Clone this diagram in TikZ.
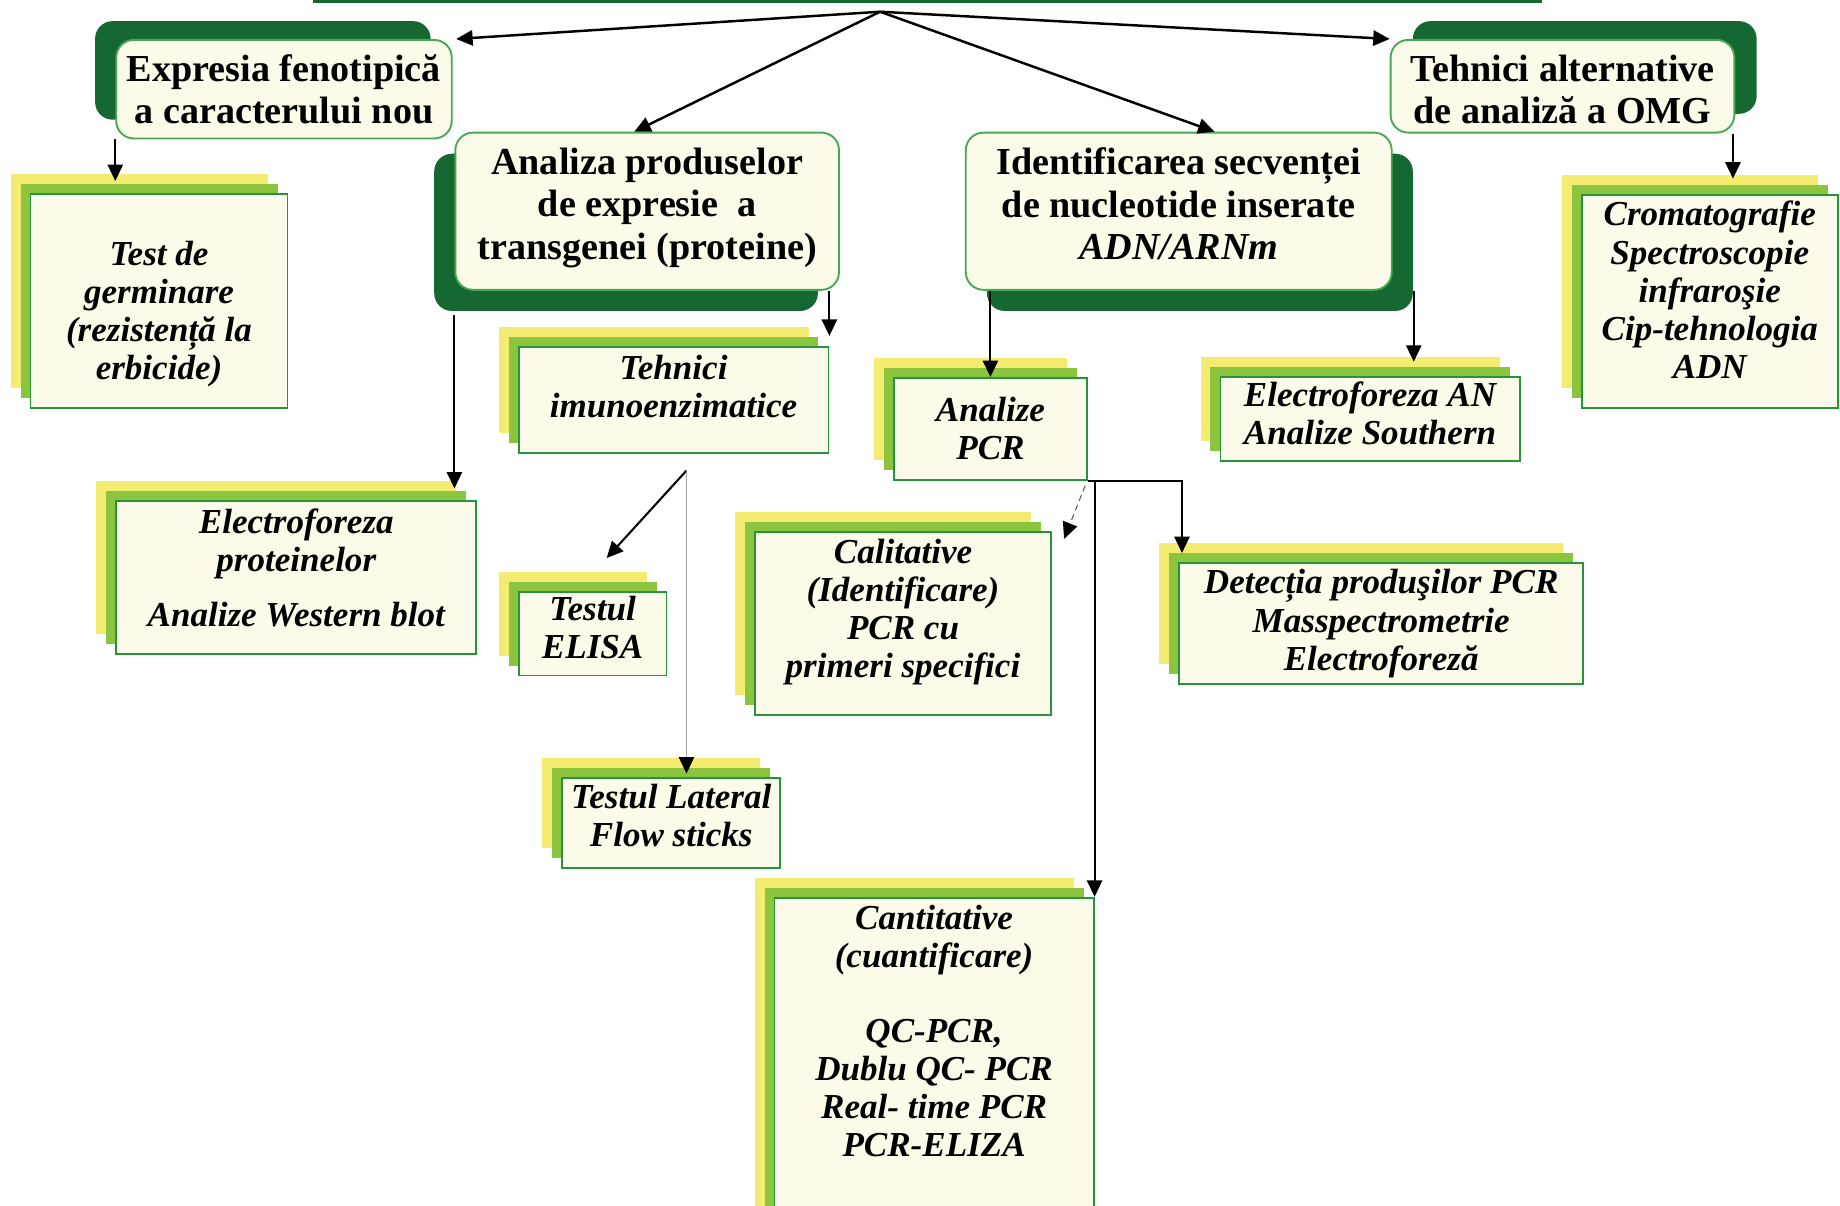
\documentclass[tikz,border=0pt]{standalone}
\usepackage{fontspec}
\setmainfont{Liberation Serif}
\usepackage{tikz}
\usetikzlibrary{arrows.meta,shadows}

\definecolor{hdark}{RGB}{22,104,50}
\definecolor{hborder}{RGB}{72,168,82}
\definecolor{cream}{RGB}{252,251,233}
\definecolor{lyellow}{RGB}{243,236,112}
\definecolor{lgreen}{RGB}{141,196,62}
\definecolor{lborder}{RGB}{38,148,62}

\newcommand{\headfont}{\fontsize{18.5}{20.5}\selectfont\bfseries}
\newcommand{\leaffont}{\fontsize{17}{18.5}\selectfont\bfseries\itshape}
\newcommand{\lowpad}[1]{\rule[-#1]{0pt}{0pt}}
\newcommand{\toppad}[1]{\rule{0pt}{#1}}

\begin{document}
\begin{tikzpicture}[x=0.02cm, y=-0.02cm,
head/.style={rectangle, rounded corners=0.3cm, draw=hborder, fill=cream, line width=0.9pt, align=center, font=\headfont, inner sep=2pt},
back/.style 2 args={copy shadow={shadow xshift=#1, shadow yshift=#2, fill=hdark, draw=none}},
leaf/.style={rectangle, draw=lborder, fill=cream, line width=0.9pt, align=center, font=\leaffont, inner sep=2pt,
  copy shadow={shadow xshift=-0.34cm, shadow yshift=0.34cm, fill=lyellow, draw=none},
  copy shadow={shadow xshift=-0.17cm, shadow yshift=0.17cm, fill=lgreen, draw=none}},
link/.style={-{Triangle[length=0.28cm, width=0.26cm]}, line width=1pt},
thinlink/.style={-{Triangle[length=0.28cm, width=0.26cm, color=black]}, draw=gray!70, line width=0.7pt},
root/.style={rectangle, draw=hdark, line width=1.6pt, minimum width=20.9cm, minimum height=1.24cm, inner sep=0pt}
]
\useasboundingbox (0,0) rectangle (1568,1027);
%Nodes
\node[root] (root) at (790.5,-30.2) {};
\node[head, back={-0.36cm}{0.32cm}, minimum width=5.72cm, minimum height=1.68cm]  (expr)  at (242,76)      {Expresia fenotipică\\a caracterului nou};
\node[head, back={-0.36cm}{-0.36cm}, minimum width=6.54cm, minimum height=2.68cm] (prot)  at (551.5,180)   {Analiza produselor\\de expresie~~a\\transgenei (proteine)\lowpad{0.26cm}};
\node[head, back={0.36cm}{-0.36cm}, minimum width=7.26cm, minimum height=2.68cm]  (seq)   at (1004.5,180)  {Identificarea secvenței\\de nucleotide inserate\\\textit{ADN/ARNm}\lowpad{0.26cm}};
\node[head, back={0.38cm}{0.32cm}, minimum width=5.86cm, minimum height=1.58cm]   (alt)   at (1331.5,73.5) {\toppad{0.56cm}Tehnici alternative\\de analiză a OMG};

\node[leaf, minimum width=4.38cm, minimum height=3.66cm] (germ)   at (135.5,256.5) {\toppad{0.86cm}Test de\\germinare\\(rezistență la\\erbicide)};
\node[leaf, minimum width=6.14cm, minimum height=2.6cm]  (wblot)  at (252.5,492)   {Electroforeza\\proteinelor\\[8pt]Analize Western blot\lowpad{0.34cm}};
\node[leaf, minimum width=5.28cm, minimum height=1.8cm]  (imuno)  at (574,341)     {Tehnici\\imunoenzimatice\lowpad{0.46cm}};
\node[leaf, minimum width=2.52cm, minimum height=1.4cm]  (elisa)  at (505,540)     {Testul\\ELISA\lowpad{0.22cm}};
\node[leaf, minimum width=3.72cm, minimum height=1.54cm] (flow)   at (572,701.5)   {Testul Lateral\\Flow sticks\lowpad{0.28cm}};
\node[leaf, minimum width=3.28cm, minimum height=1.74cm] (pcr)    at (844,365.5)   {Analize\\PCR};
\node[leaf, minimum width=5.1cm, minimum height=1.44cm]  (south)  at (1167.5,357)  {Electroforeza AN\\Analize Southern\lowpad{0.2cm}};
\node[leaf, minimum width=4.36cm, minimum height=3.64cm] (crom)   at (1457,257)    {Cromatografie\\Spectroscopie\\infraroşie\\Cip-tehnologia\\ADN\lowpad{0.4cm}};
\node[leaf, minimum width=5.06cm, minimum height=3.12cm] (calit)  at (769.5,531)   {Calitative\\(Identificare)\\PCR cu\\primeri specifici\lowpad{0.5cm}};
\node[leaf, minimum width=6.88cm, minimum height=2.06cm] (detect) at (1177,531.5)  {Detecția produşilor PCR\\Masspectrometrie\\Electroforeză};
\node[leaf, minimum width=5.44cm, minimum height=5.6cm]  (cant)   at (796,905)     {Cantitative\\(cuantificare)\\[18pt]QC-PCR,\\Dublu QC- PCR\\Real- time PCR\\PCR-ELIZA\lowpad{1.06cm}};
%Lines
\coordinate (hub) at (750,10);
\draw[link, line width=1.2pt] (hub) -- ([xshift=0.06cm]expr.north east);
\draw[link, line width=1.2pt] (hub) -- ([xshift=-0.22cm]prot.north);
\draw[link, line width=1.2pt] (hub) -- ([xshift=0.61cm]seq.north);
\draw[link, line width=1.2pt] (hub) -- (alt.north west);

\draw[link, shorten >=0.2cm] (expr.south west) -- (expr.south west |- germ.north);
\draw[link, shorten <=0.42cm, shorten >=0.2cm] (prot.south west) -- (prot.south west |- wblot.north);
\draw[link, shorten >=0.18cm] (imuno.north east |- prot.south) -- (imuno.north east);

\coordinate (split) at (585,401);
\draw[link] (split) -- ([xshift=0.24cm, yshift=0.56cm]elisa.north);
\draw[thinlink, shorten >=0.06cm] (split) -- (split |- flow.north);

\draw[link] (seq.south -| pcr.north) -- (pcr.north);
\draw[link, shorten >=0.24cm] ([xshift=0.36cm]seq.south east) -- ([xshift=0.36cm]seq.south east |- south.north);
\draw[link, shorten >=0.26cm] ([xshift=-0.04cm]alt.south east) -- ([xshift=-0.04cm]alt.south east |- crom.north);

\draw[thinlink, densely dashed, draw=black!65, line width=0.5pt] ([xshift=-0.04cm, yshift=-0.08cm]pcr.south east) -- ([xshift=0.2cm, yshift=-0.14cm]calit.north east);
\draw[link, shorten >=0.16cm] (pcr.south east) -| ([xshift=0.06cm]detect.north west);
\draw[link] (cant.north east |- pcr.south east) -- (cant.north east);
\end{tikzpicture}
\end{document}
